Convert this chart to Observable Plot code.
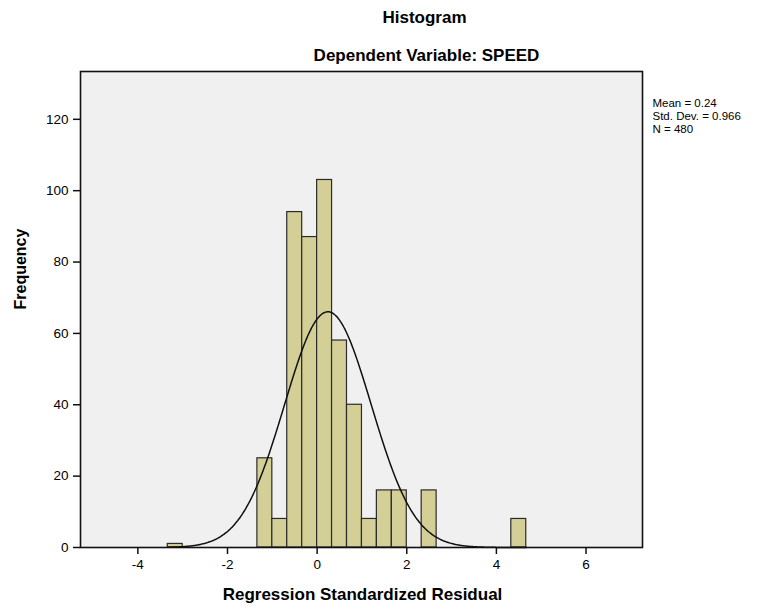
<!DOCTYPE html>
<html>
<head>
<meta charset="utf-8">
<script src="https://cdn.jsdelivr.net/npm/d3@7"></script>
<script src="https://cdn.jsdelivr.net/npm/@observablehq/plot@0.6"></script>
<style>
  html, body { margin: 0; padding: 0; background: #ffffff; }
  #chart { width: 771px; height: 609px; }
</style>
</head>
<body>
<div id="chart"></div>
<script>
// ---- data ----
const binStart = [-3.333, -1.333, -1.000, -0.667, -0.333, 0.000, 0.333, 0.667, 1.000, 1.333, 1.667, 2.333, 4.333];
const binWidth = 0.3333;
const frequency = [1, 25, 8, 94, 87, 103, 58, 40, 8, 16, 16, 16, 8];
const statMean = 0.24;
const statSD = 0.966;
const statN = 480;
const xTicks = [-4, -2, 0, 2, 4, 6];
const yTicks = [0, 20, 40, 60, 80, 100, 120];
const titleText = "Histogram";
const subtitleText = "Dependent Variable: SPEED";
const xLabelText = "Regression Standardized Residual";
const yLabelText = "Frequency";
const statLines = ["Mean = 0.24", "Std. Dev. = 0.966", "N = 480"];

const bins = binStart.map((s, i) => ({x1: s, x2: s + binWidth, count: frequency[i]}));

// fitted normal curve from the reported statistics
const curve = d3.range(-3.333, 4.667 + 1e-9, 0.02).map(x => ({
  x,
  y: statN * binWidth / (statSD * Math.sqrt(2 * Math.PI)) *
     Math.exp(-0.5 * ((x - statMean) / statSD) ** 2)
}));

const font = "'Liberation Sans', Arial, Helvetica, sans-serif";

const plot = Plot.plot({
  width: 771,
  height: 609,
  marginLeft: 80,
  marginRight: 129,
  marginTop: 71,
  marginBottom: 62,
  style: {fontFamily: font, fontSize: "13px", color: "#000", background: "#fff", overflow: "visible"},
  x: {domain: [-5.28, 7.26]},
  y: {domain: [0, 133.4]},
  marks: [
    Plot.frame({fill: "#f0f0f0", stroke: null}),
    Plot.rectY(bins, {x1: "x1", x2: "x2", y: "count", fill: "#d3cf97", stroke: "#2b2b2b", strokeWidth: 1.2}),
    Plot.line(curve, {x: "x", y: "y", stroke: "#111", strokeWidth: 1.5, curve: "basis"}),
    Plot.frame({stroke: "#111", strokeWidth: 1.6}),
    Plot.axisX({ticks: xTicks, tickSize: 7, tickPadding: 5, tickFormat: d => String(d), label: null, fontSize: 13.5, stroke: "#111", strokeWidth: 1.5}),
    Plot.axisY({ticks: yTicks, tickSize: 7, tickPadding: 5, tickFormat: d => String(d), label: null, fontSize: 13.5, stroke: "#111", strokeWidth: 1.5}),
    Plot.text([titleText], {frameAnchor: "top", dx: 63, dy: -61, fontWeight: "bold", fontSize: 17}),
    Plot.text([subtitleText], {frameAnchor: "top", dx: 65, dy: -23, fontWeight: "bold", fontSize: 17}),
    Plot.text([xLabelText], {frameAnchor: "bottom", dx: 1, dy: 52, fontWeight: "bold", fontSize: 17}),
    Plot.text([yLabelText], {frameAnchor: "left", dx: -60, dy: 0, rotate: -90, fontWeight: "bold", fontSize: 16}),
    Plot.text([statLines.join("\n")], {frameAnchor: "top-right", dx: 10, dy: 27, textAnchor: "start", lineAnchor: "top", fontSize: 11.5, lineHeight: 1.1})
  ]
});

document.getElementById("chart").appendChild(plot);
</script>
</body>
</html>
